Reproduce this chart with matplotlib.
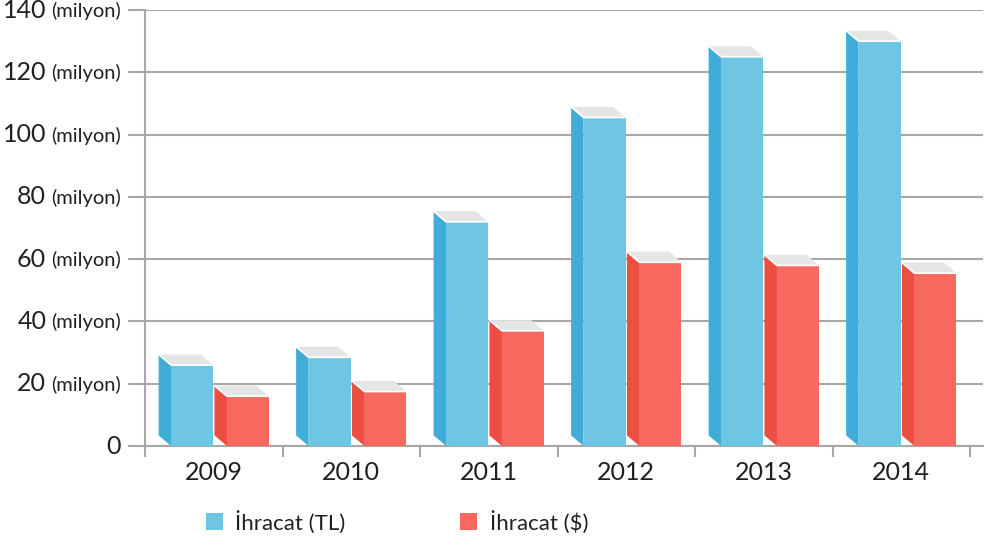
import numpy as np
import matplotlib
matplotlib.use("Agg")
import matplotlib.pyplot as plt
from matplotlib.patches import Polygon, Rectangle

plt.rcParams['font.family'] = ['Lato', 'DejaVu Sans']

years = ['2009', '2010', '2011', '2012', '2013', '2014']
ihracat_tl = [26, 28.5, 72, 105.5, 125, 130]
ihracat_usd = [16, 17.5, 37, 59, 58, 55.5]
y_ticks = [0, 20, 40, 60, 80, 100, 120, 140]
legend_labels = ['İhracat (TL)', 'İhracat ($)']

W, H = 986, 540
grid_col = '#a7a7a7'
txt_col = '#231f20'
blue_front, blue_side = '#6fc6e4', '#40add9'
red_front, red_side = '#f7685e', '#ec4e41'
top_col = '#e4e5e5'

fig = plt.figure(figsize=(W / 100, H / 100), dpi=100)
ax = fig.add_axes([145 / W, 94 / H, (983 - 145) / W, (446 - 10) / H])
ax.set_xlim(-0.5, -0.5 + (983 - 145) / 137.5)
ax.set_ylim(0, 140)

# bar geometry (data units)
front_w = 0.305
dx = 0.091      # depth to the left
dy = 3.4        # depth upward


def bar3d(x0, v, front, side):
    # side face
    ax.add_patch(Polygon([(x0, 0), (x0, v), (x0 - dx, v + dy), (x0 - dx, dy)],
                         closed=True, facecolor=side, edgecolor='none', zorder=3))
    # top face
    ax.add_patch(Polygon([(x0, v), (x0 + front_w, v), (x0 + front_w - dx, v + dy),
                          (x0 - dx, v + dy)], closed=True, facecolor=top_col,
                         edgecolor='none', zorder=3))
    # front face
    ax.add_patch(Rectangle((x0, 0), front_w, v, facecolor=front,
                           edgecolor='none', zorder=4))
    # white highlight edges
    ax.plot([x0 - dx, x0, x0 + front_w], [v + dy, v, v], color='white',
            lw=1.3, zorder=5, solid_capstyle='butt')


for i in range(len(years)):
    bar3d(i - 0.31, ihracat_tl[i], blue_front, blue_side)
    bar3d(i + 0.096, ihracat_usd[i], red_front, red_side)

# axes styling
for s in ['top', 'right']:
    ax.spines[s].set_visible(False)
for s in ['left', 'bottom']:
    ax.spines[s].set_color(grid_col)
    ax.spines[s].set_linewidth(1.5)
    ax.spines[s].set_zorder(1)

ax.set_yticks(y_ticks)
ax.set_yticklabels([])
ax.tick_params(axis='y', length=12, width=1.5, color=grid_col)
ax.yaxis.grid(True, color=grid_col, lw=1.5, zorder=0)
ax.set_axisbelow(True)

ax.set_xticks(np.arange(-0.5, len(years), 1.0))
ax.set_xticklabels([])
ax.tick_params(axis='x', length=8, width=1.5, color=grid_col)
for i, y in enumerate(years):
    ax.annotate(y, (i, 0), xytext=(0, -11), textcoords='offset points',
                ha='center', va='top', fontsize=18, color=txt_col)

# y labels: big number + small "(milyon)"
fig.canvas.draw()
rend = fig.canvas.get_renderer()
label_right = 121
for v in y_ticks:
    ypix = 446 - v * 436 / 140
    yf = (H - ypix) / H
    if v == 0:
        fig.text(label_right / W, yf, str(v), ha='right', va='center',
                 fontsize=18, color=txt_col)
        continue
    t = fig.text(label_right / W, yf - 1 / H, '(milyon)', ha='right', va='center',
                 fontsize=14.5, color=txt_col)
    wpx = t.get_window_extent(rend).width
    fig.text((label_right - wpx - 5) / W, yf, str(v), ha='right', va='center',
             fontsize=18, color=txt_col)

# legend
for (sx, tx), lab, col in zip([(206, 235), (460, 490)], legend_labels,
                              [blue_front, red_front]):
    fig.add_artist(Rectangle((sx / W, (H - 530) / H), 17 / W, 17 / H,
                             transform=fig.transFigure, facecolor=col,
                             edgecolor='none'))
    fig.text(tx / W, (H - 522) / H, lab, ha='left', va='center',
             fontsize=16, color=txt_col)

fig.savefig('out.png', dpi=100)
